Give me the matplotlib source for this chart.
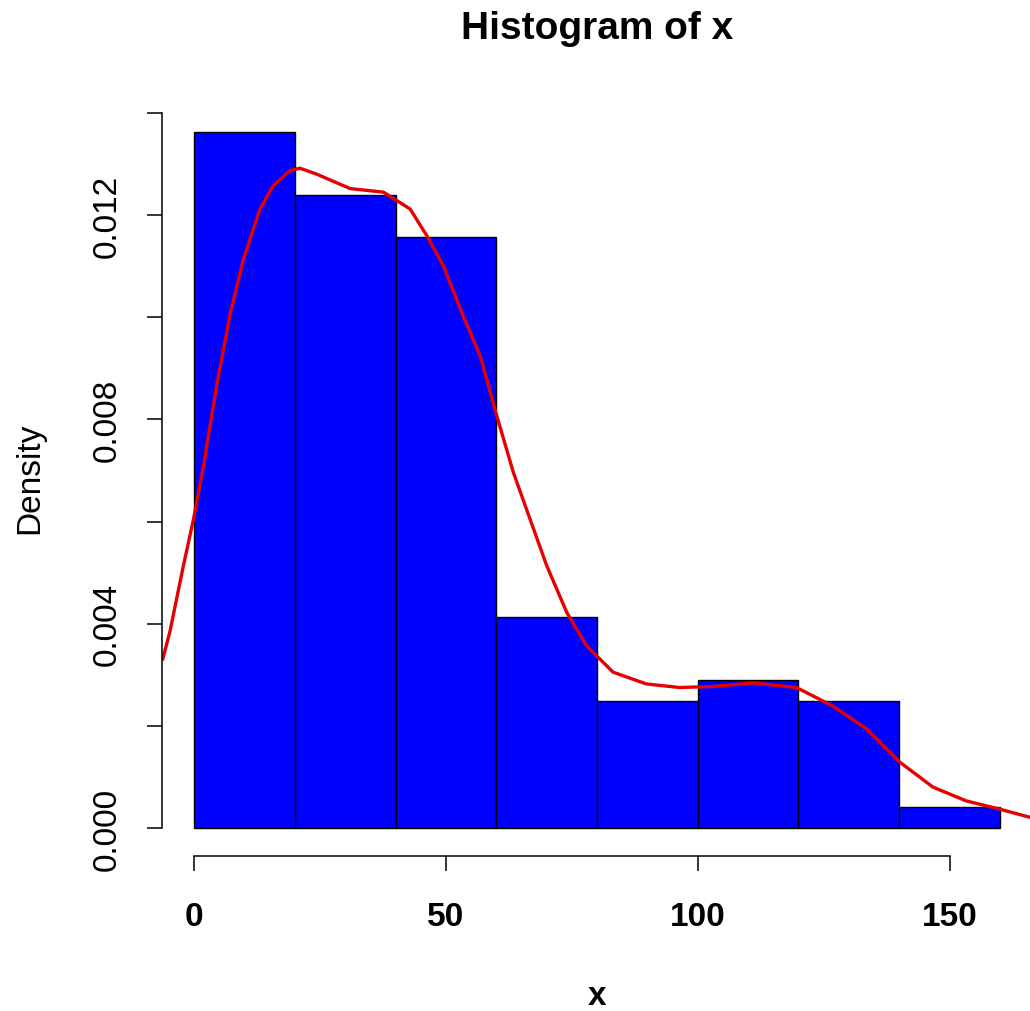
import numpy as np
import matplotlib
matplotlib.use("Agg")
import matplotlib.pyplot as plt

plt.rcParams["font.family"] = ["Liberation Sans", "DejaVu Sans"]

# histogram: bin edges and counts (n = 121)
bin_left = [0, 20, 40, 60, 80, 100, 120, 140]
bin_width = 20
counts = [33, 30, 28, 10, 6, 7, 6, 1]

# red density curve, read point by point (x, density * 1000)
curve_x = [-6.2, -4.8, -2.1, -0.1, 1.9, 2.5, 4.5, 7.1, 9.8, 13.1, 15.7, 19.0, 21.0,
           24.4, 31.0, 37.6, 42.9, 46.2, 49.5, 53.4, 56.8, 60.1, 63.4, 66.7, 70.0,
           74.0, 77.9, 83.2, 89.8, 96.4, 103.0, 111.0, 119.6, 126.8, 133.5, 140.1,
           146.7, 153.3, 159.9, 165.9]
curve_y = [3.31, 3.84, 5.14, 6.05, 7.09, 7.48, 8.66, 10.03, 11.14, 12.12, 12.57, 12.87,
           12.92, 12.80, 12.52, 12.45, 12.12, 11.60, 11.01, 10.03, 9.25, 8.07, 6.96,
           6.05, 5.14, 4.22, 3.57, 3.05, 2.82, 2.75, 2.77, 2.84, 2.75, 2.39, 1.94,
           1.29, 0.80, 0.53, 0.37, 0.21]

xticks = [0, 50, 100, 150]
yticks = [0.0, 0.002, 0.004, 0.006, 0.008, 0.010, 0.012, 0.014]
ylabels = ["0.000", "", "0.004", "", "0.008", "", "0.012", ""]

dens = np.array(counts) / (sum(counts) * bin_width)

W, H = 1030, 1012
fig = plt.figure(figsize=(W / 100, H / 100), dpi=100)
ax = fig.add_axes([161.8 / W, 1 - 856.8 / H, 870.4 / W, 752 / H])

ax.bar(bin_left, dens, width=bin_width, align="edge", color="#0000ff",
       edgecolor="black", linewidth=1.0)
ax.plot(curve_x, np.array(curve_y) / 1000, color="#e60000", lw=2.4,
        solid_joinstyle="round")

ax.set_xlim(-6.4, 166.4)
ax.set_ylim(-0.000545, 0.01418)

for s in ["top", "right"]:
    ax.spines[s].set_visible(False)
ax.spines["left"].set_bounds(0, 0.014)
ax.spines["bottom"].set_bounds(0, 150)
ax.spines["left"].set_linewidth(1.1)
ax.spines["bottom"].set_linewidth(1.1)

ax.set_xticks(xticks)
ax.set_xticklabels([str(t) for t in xticks], fontweight="bold")
ax.set_yticks(yticks)
ax.set_yticklabels(ylabels, rotation=90, va="center")
ax.tick_params(axis="both", direction="out", length=10.8, width=1.1, labelsize=24)
ax.tick_params(axis="x", pad=22)
ax.tick_params(axis="y", pad=17)

fig.text(597 / W, 1 - 39.3 / H, "Histogram of x", ha="center", va="baseline",
         fontsize=28, fontweight="bold")
fig.text(597 / W, 1 - 1005 / H, "x", ha="center", va="baseline",
         fontsize=24, fontweight="bold")
fig.text(14.7 / W, 1 - 478.5 / H, "Density", ha="left", va="center",
         rotation=90, fontsize=24)

fig.savefig("out.png", dpi=100)
